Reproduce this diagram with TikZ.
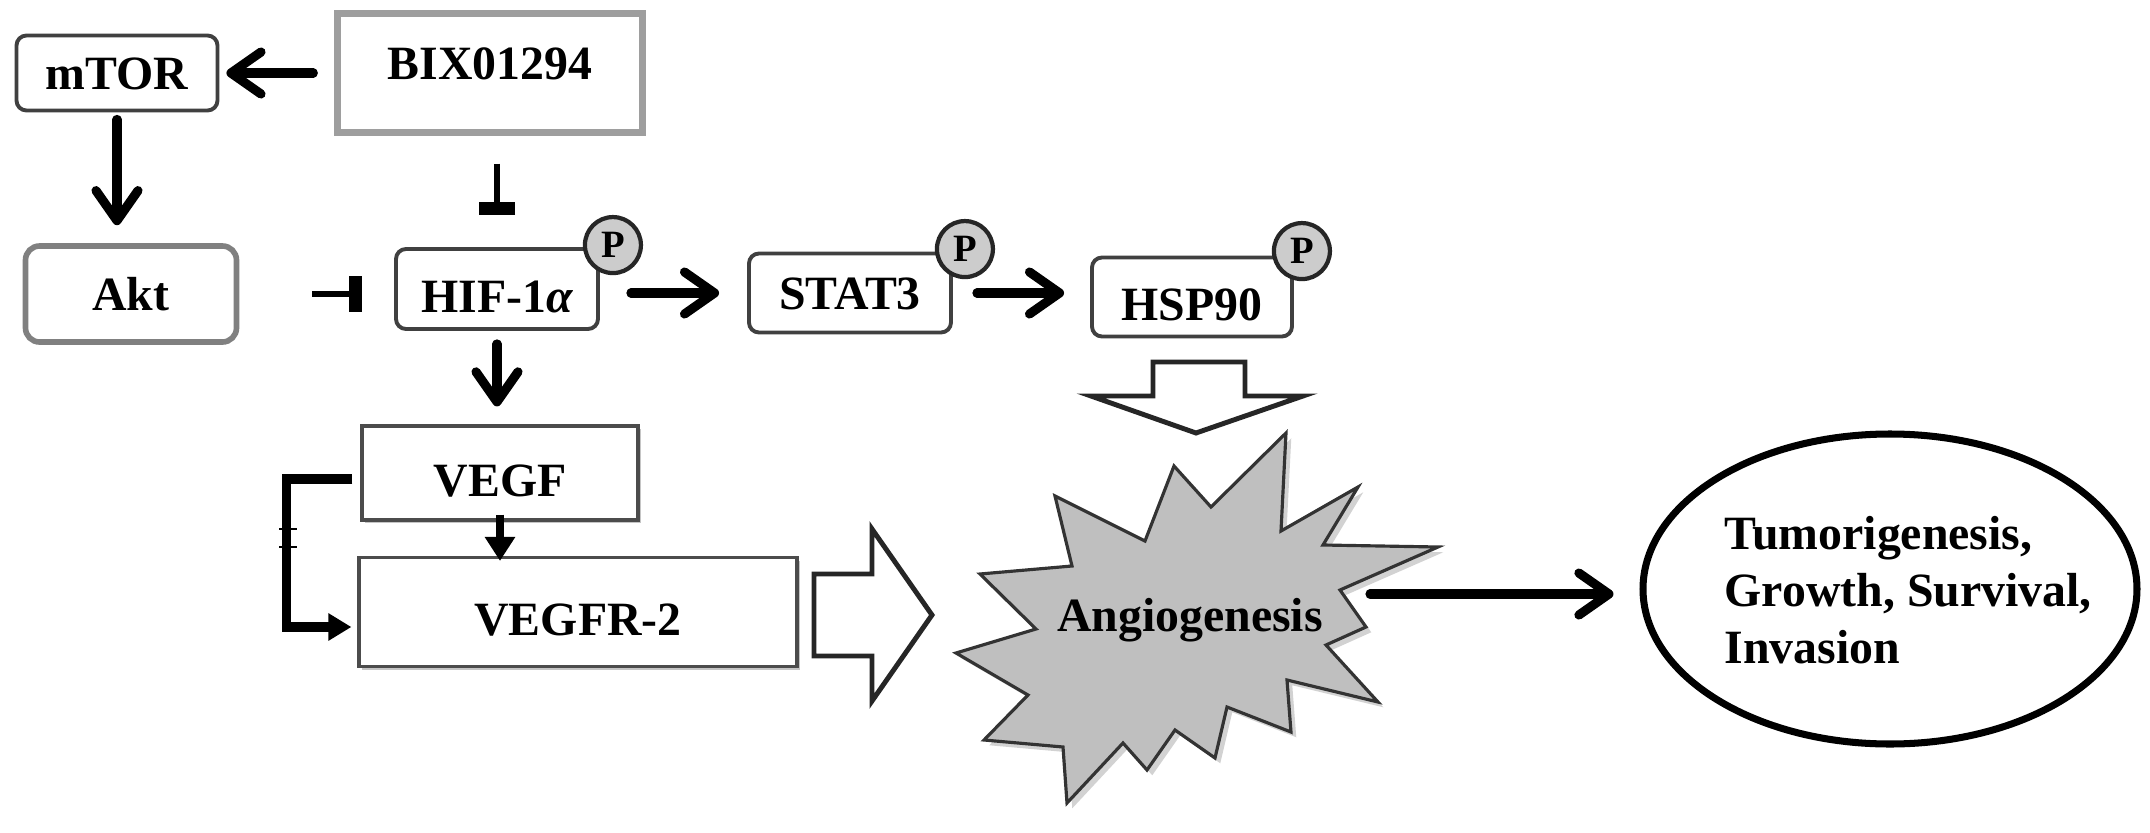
\documentclass[tikz,border=0pt]{standalone}
\usepackage{fontspec}
\setmainfont{Liberation Serif}
\usepackage{tikz}
\usetikzlibrary{arrows.meta,positioning,shapes.geometric,shadows,calc}

\begin{document}
\begin{tikzpicture}[x=0.1mm,y=-0.1mm,
    font=\fontsize{13.6}{15.5}\selectfont\bfseries,
    rbox/.style={draw=black!75,line width=1.1pt,rounded corners=1mm,fill=white,inner sep=0pt,text height=9.3pt,text depth=0pt},
    sbox/.style={draw=black!70,line width=0.9pt,fill=white,inner sep=0pt,text height=9.3pt,text depth=0pt,
                 drop shadow={shadow xshift=0.9pt,shadow yshift=-0.9pt,opacity=0.45}},
    low/.style={text height=13.5pt},
    phos/.style={circle,draw=black!85,line width=1.2pt,fill=gray!40,inner sep=0pt,minimum size=5.6mm,
                 font=\fontsize{11}{11}\selectfont\bfseries},
    act/.style={line width=2.6pt,-{Straight Barb[length=3mm,width=4.2mm,round]},line cap=round},
    inh/.style={line width=1.6pt,-{Bar[width=3.6mm,line width=1.3mm]}},
    hollow/.style={draw=black!85,line width=1.4pt,fill=white}]
  \fill[white] (0,0) rectangle (2150,833);
  \useasboundingbox (0,0) rectangle (2150,833);

  % boxes
  \node[rbox,minimum width=20.1mm,minimum height=7.5mm] (mtor) at (117,73) {mTOR};
  \node[rbox,draw=black!50,line width=1.6pt,rounded corners=1.4mm,minimum width=21.1mm,minimum height=9.6mm] (akt) at (131,294) {Akt};
  \node[draw=black!38,line width=1.8pt,fill=white,inner sep=0pt,minimum width=30.5mm,minimum height=11.9mm,
        text height=9.3pt,text depth=5.7pt] (bix) at (490,73) {BIX01294};
  \node[rbox,low,minimum width=20.2mm,minimum height=8mm] (hif) at (497,289) {HIF-1{\itshape α}};
  \node[rbox,minimum width=20.2mm,minimum height=7.9mm] (stat) at (850,293) {STAT3};
  \node[rbox,low,minimum width=20mm,minimum height=7.9mm] (hsp) at (1192,297) {HSP90};
  \node[sbox,low,minimum width=27.6mm,minimum height=9.4mm] (vegf) at (500,473) {VEGF};
  \node[sbox,low,minimum width=43.8mm,minimum height=10.9mm] (vegfr) at (578,612) {VEGFR-2};

  \node[phos] (phif) at ([shift={(1.3mm,0.2mm)}]hif.north east) {P};
  \node[phos] (pstat) at ([shift={(1.2mm,0.25mm)}]stat.north east) {P};
  \node[phos] (phsp) at ([shift={(0.8mm,0.45mm)}]hsp.north east) {P};

  % angiogenesis burst
  \draw[fill=gray!50,draw=black!80,line width=0.9pt,drop shadow={shadow xshift=1.5pt,shadow yshift=-1.5pt,opacity=0.35}]
    (1286,433) -- (1281,531) -- (1358,487) -- (1323,545) -- (1438,547) -- (1340,590) -- (1366,627)
    -- (1326,645) -- (1378,702) -- (1287,680) -- (1291,732) -- (1227,707) -- (1215,758) -- (1175,730)
    -- (1147,770) -- (1123,743) -- (1067,803) -- (1063,747) -- (984,740) -- (1028,695) -- (956,653)
    -- (1036,629) -- (980,574) -- (1072,566) -- (1055,496) -- (1145,541) -- (1174,466) -- (1211,507) -- cycle;
  \node (angio) at (1190,620) {Angiogenesis};
  \coordinate (angioE) at (1370,594);

  \node[ellipse,draw,line width=2pt,minimum width=49.4mm,minimum height=31mm,inner sep=0pt] (outc) at (1890,589) {};
  \node[anchor=west,align=left,inner sep=0pt,font=\fontsize{13.6}{16.2}\selectfont\bfseries] (outtxt) at (1724,590)
    {Tumorigenesis,\\Growth, Survival,\\Invasion};

  % connectors
  \draw[act,shorten <=2.1mm,shorten >=0.7mm] (bix.west) -- (mtor.east);
  \draw[act,shorten <=0.7mm,shorten >=1.8mm] (mtor.south) -- (mtor.south |- akt.north);
  \draw[inh,shorten <=7.3mm,shorten >=3.2mm] (akt.east) -- (akt.east -| hif.west);
  \draw[inh,shorten <=2.8mm,shorten >=3.2mm] (hif.north |- bix.south) -- (hif.north);
  \draw[act,shorten <=3.1mm,shorten >=2.8mm] (stat.west -| hif.east) -- (stat.west);
  \draw[act,shorten <=2.4mm,shorten >=2.6mm] (stat.east) -- (stat.east -| hsp.west);
  \draw[act,shorten <=1.3mm,shorten >=1.8mm] (hif.south) -- (hif.south |- vegf.north);
  \draw[line width=2.2pt,-{Triangle[length=2.4mm,width=2.9mm]}]
    ([yshift=0.7mm]vegf.south) -- ([yshift=-0.5mm]vegf.south |- vegfr.north);
  \draw[line width=2.8pt,-{Triangle[length=2.3mm,width=2.6mm]},shorten <=0.8mm,shorten >=0.6mm]
    ([yshift=-0.6mm]vegf.west) -- ++(-7.4mm,0) |- ([yshift=-1.5mm]vegfr.west);
  \draw[line width=0.8pt] (279,529) -- (297,529) (279,547) -- (297,547);
  \draw[act,shorten >=2.6mm] (angioE) -- (angioE -| outc.west);

  % block arrows
  \draw[hollow] (814,574) -- (872,574) -- (872,529) -- (932,615) -- (872,701) -- (872,656) -- (814,656) -- cycle;
  \draw[hollow] (1153,362) -- (1245,362) -- (1245,396) -- (1303,396) -- (1196,433) -- (1091,396) -- (1153,396) -- cycle;
\end{tikzpicture}
\end{document}
